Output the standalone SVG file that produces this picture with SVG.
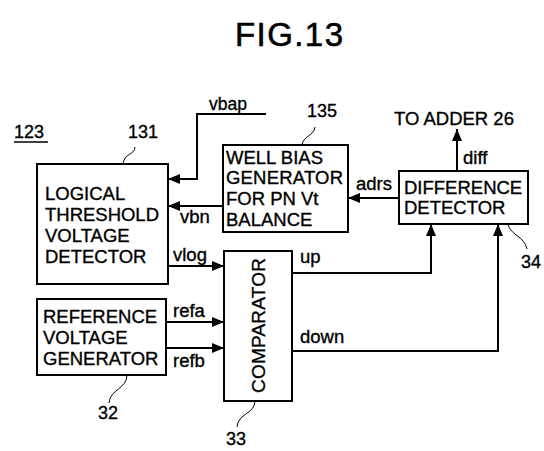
<svg xmlns="http://www.w3.org/2000/svg" width="544" height="451" viewBox="0 0 544 451">
<defs>
<style>
text{font-family:"Liberation Sans",Arial,sans-serif;fill:#000;font-size:18.5px;stroke:#000;stroke-width:0.35}
.box{fill:#fff;stroke:#000;stroke-width:2}
.ln{fill:none;stroke:#000;stroke-width:2}
.ld{fill:none;stroke:#000;stroke-width:1}
.title{font-size:33px;stroke-width:0.6}
.num{font-size:18px}
</style>
<marker id="ah" viewBox="0 0 12 10" refX="12" refY="5" markerWidth="12" markerHeight="10" markerUnits="userSpaceOnUse" orient="auto">
<path d="M0,0 L12,5 L0,10 Z" fill="#000"/>
</marker>
</defs>
<rect width="544" height="451" fill="#fff"/>
<text class="title" x="235" y="46" textLength="108">FIG.13</text>
<g id="label123">
<text class="num" x="14" y="138">123</text>
<line x1="14" y1="142" x2="48" y2="142" stroke="#000" stroke-width="1.5"/>
</g>
<g id="logical-threshold-voltage-detector">
<rect class="box" x="37" y="164" width="131" height="120"/>
<text x="45" y="200">LOGICAL</text>
<text x="45" y="221" textLength="114">THRESHOLD</text>
<text x="45" y="242">VOLTAGE</text>
<text x="45" y="263">DETECTOR</text>
<text class="num" x="128" y="138">131</text>
<path class="ld" d="M135,147 C135,155 124,153 123,164"/>
</g>
<g id="well-bias-generator">
<rect class="box" x="223" y="145" width="125" height="87"/>
<text x="226" y="164">WELL BIAS</text>
<text x="226" y="184" textLength="117">GENERATOR</text>
<text x="226" y="205">FOR PN Vt</text>
<text x="226" y="226">BALANCE</text>
<text class="num" x="307" y="117">135</text>
<path class="ld" d="M315,127 C314,136 303,136 302,145"/>
</g>
<g id="difference-detector">
<rect class="box" x="399" y="171" width="129" height="53"/>
<text x="404" y="194">DIFFERENCE</text>
<text x="404" y="214">DETECTOR</text>
<text class="num" x="521" y="268">34</text>
<path class="ld" d="M508,225 C512,236 524,236 527,249"/>
</g>
<g id="reference-voltage-generator">
<rect class="box" x="37" y="299" width="129" height="76"/>
<text x="43" y="323">REFERENCE</text>
<text x="43" y="344">VOLTAGE</text>
<text x="43" y="365">GENERATOR</text>
<text class="num" x="98" y="419">32</text>
<path class="ld" d="M127,375 C127,389 110,389 109,403"/>
</g>
<g id="comparator">
<rect class="box" x="224" y="251" width="68" height="150"/>
<text x="0" y="0" transform="translate(265,393) rotate(-90)" style="font-size:19px" textLength="135">COMPARATOR</text>
<text class="num" x="226" y="445">33</text>
<path class="ld" d="M255,401 C255,414 238,413 237,427"/>
</g>
<g id="connectors">
<path class="ln" d="M266,114 H197 V179 H168" marker-end="url(#ah)"/>
<text x="209" y="110" style="font-size:17.5px">vbap</text>
<path class="ln" d="M223,206 H168" marker-end="url(#ah)"/>
<text x="180" y="223">vbn</text>
<path class="ln" d="M399,198 H348" marker-end="url(#ah)"/>
<text x="356" y="190">adrs</text>
<path class="ln" d="M457,171 V129" marker-end="url(#ah)"/>
<text x="463" y="164">diff</text>
<text x="394" y="125">TO ADDER 26</text>
<path class="ln" d="M168,266 H224" marker-end="url(#ah)"/>
<text x="173" y="261">vlog</text>
<path class="ln" d="M166,322 H224" marker-end="url(#ah)"/>
<text x="173" y="317">refa</text>
<path class="ln" d="M166,348 H224" marker-end="url(#ah)"/>
<text x="173" y="367">refb</text>
<path class="ln" d="M292,273 H431 V224" marker-end="url(#ah)"/>
<text x="300" y="263">up</text>
<path class="ln" d="M292,351 H498 V224" marker-end="url(#ah)"/>
<text x="300" y="343">down</text>
</g>
</svg>
